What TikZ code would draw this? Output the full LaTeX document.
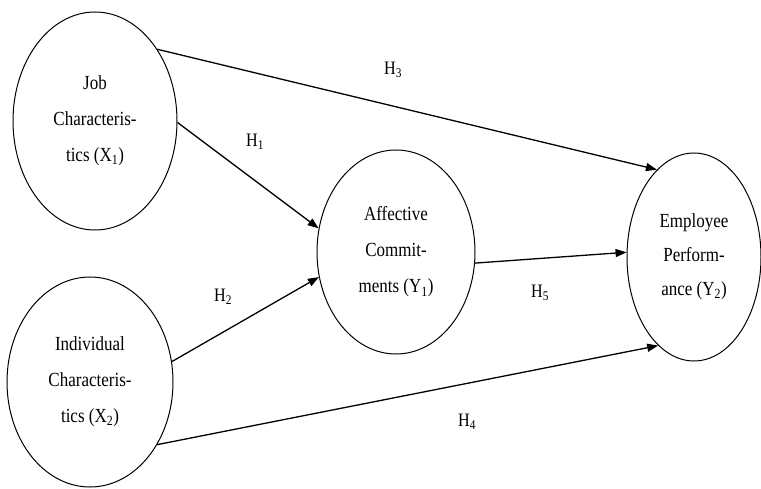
\documentclass[tikz,border=0pt]{standalone}
\usepackage{fontspec}
\setmainfont[FakeStretch=0.85]{Liberation Serif}
\usetikzlibrary{shapes.geometric,arrows.meta}
\begin{document}
\begin{tikzpicture}[x=1pt,y=1pt,
  var/.style={draw,line width=1pt,ellipse,inner sep=0pt,align=center,
    font=\fontsize{20}{36}\selectfont},
  link/.style={line width=1.3pt,-{Triangle[length=11pt,width=8pt]}},
  hlab/.style={font=\fontsize{19}{22}\selectfont}]
\useasboundingbox (0,0) rectangle (761,488);
\node[var,minimum width=164pt,minimum height=218pt] (job) at (95,367)
  {Job\\Characteris-\\tics (X\textsubscript{1})};
\node[var,minimum width=166pt,minimum height=210pt] (ind) at (90,106)
  {Individual\\Characteris-\\tics (X\textsubscript{2})};
\node[var,minimum width=158pt,minimum height=204pt] (aff) at (396,236)
  {Affective\\Commit-\\ments (Y\textsubscript{1})};
\node[var,minimum width=134pt,minimum height=208pt,
  font=\fontsize{20}{34}\selectfont] (emp) at (694,231)
  {Employee\\Perform-\\ance (Y\textsubscript{2})};
\draw[link] (job.49.5) -- (emp.113.7);
\draw[link] (job.-1.4) -- (aff.163.6);
\draw[link] (ind.14.8) -- (aff.198.2);
\draw[link] (aff.-8.6) -- (emp.176.8);
\draw[link] (ind.-43.7) -- (emp.248.2);
\node[hlab] (h3) at (393,418) {H\textsubscript{3}};
\node[hlab] (h1) at (255,346) {H\textsubscript{1}};
\node[hlab] (h2) at (223,191) {H\textsubscript{2}};
\node[hlab] (h5) at (540,195) {H\textsubscript{5}};
\node[hlab] (h4) at (467,66) {H\textsubscript{4}};
\end{tikzpicture}
\end{document}
